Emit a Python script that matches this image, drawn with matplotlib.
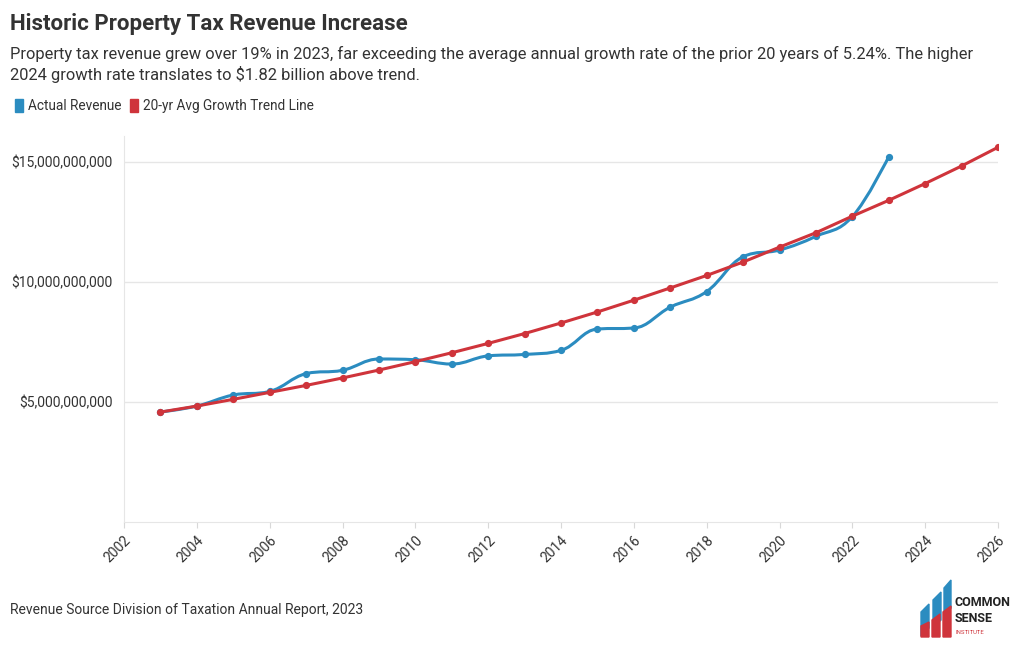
import matplotlib
matplotlib.use('Agg')
import matplotlib.pyplot as plt
from matplotlib.path import Path
from matplotlib.patches import PathPatch, Patch, Polygon
from matplotlib.ticker import FuncFormatter
import numpy as np

plt.rcParams['font.family'] = ['Roboto', 'DejaVu Sans']

# data (billions of dollars)
years = [2003, 2004, 2005, 2006, 2007, 2008, 2009, 2010, 2011, 2012, 2013, 2014,
         2015, 2016, 2017, 2018, 2019, 2020, 2021, 2022, 2023]
actual = [4.58, 4.83, 5.29, 5.44, 6.18, 6.32, 6.79, 6.76, 6.58, 6.92, 6.98, 7.15,
          8.04, 8.08, 8.95, 9.60, 11.05, 11.33, 11.90, 12.72, 15.22]
trend_years = list(range(2003, 2027))
trend = [4.58, 4.83, 5.11, 5.40, 5.69, 6.00, 6.33, 6.68, 7.05, 7.44, 7.85, 8.29,
         8.75, 9.24, 9.75, 10.27, 10.83, 11.45, 12.05, 12.74, 13.40, 14.10, 14.83, 15.61]
xticks = list(range(2002, 2027, 2))
yticks = [5e9, 10e9, 15e9]

BLUE = '#2b8cc0'
RED = '#cf343b'
GRID = '#e6e6e6'
TXT = '#333333'


def spline_path(xs, ys, smoothing=1.5):
    # highcharts-style spline: cubic bezier through each point
    n = len(xs)
    lc = [(xs[i], ys[i]) for i in range(n)]
    rc = [(xs[i], ys[i]) for i in range(n)]
    d = smoothing + 1
    for i in range(1, n - 1):
        px, py = xs[i], ys[i]
        lx, ly = xs[i - 1], ys[i - 1]
        nx, ny = xs[i + 1], ys[i + 1]
        lcx = (smoothing * px + lx) / d
        lcy = (smoothing * py + ly) / d
        rcx = (smoothing * px + nx) / d
        rcy = (smoothing * py + ny) / d
        if rcx != lcx:
            corr = (rcy - lcy) * (rcx - px) / (rcx - lcx) + py - rcy
            lcy += corr
            rcy += corr
            if lcy > ly and lcy > py:
                lcy = max(ly, py); rcy = 2 * py - lcy
            elif lcy < ly and lcy < py:
                lcy = min(ly, py); rcy = 2 * py - lcy
            if rcy > ny and rcy > py:
                rcy = max(ny, py); lcy = 2 * py - rcy
            elif rcy < ny and rcy < py:
                rcy = min(ny, py); lcy = 2 * py - rcy
        lc[i] = (lcx, lcy)
        rc[i] = (rcx, rcy)
    verts = [(xs[0], ys[0])]
    codes = [Path.MOVETO]
    for i in range(1, n):
        verts += [rc[i - 1], lc[i], (xs[i], ys[i])]
        codes += [Path.CURVE4] * 3
    return Path(verts, codes)


fig = plt.figure(figsize=(10.2, 6.5), dpi=100)
ax = fig.add_axes([124 / 1020, 128 / 650, 874 / 1020, 386 / 650])

act = np.array(actual) * 1e9
trd = np.array(trend) * 1e9

ax.add_patch(PathPatch(spline_path(years, act), fill=False, edgecolor=BLUE,
                       lw=2.2, capstyle='round', joinstyle='round', zorder=3))
ax.plot(years, act, 'o', color=BLUE, ms=4.2, zorder=4)
ax.plot(trend_years, trd, '-o', color=RED, lw=2.2, ms=4.2, zorder=5)

ax.set_xlim(2002, 2026)
ax.set_ylim(0, 16.08e9)
ax.set_xticks(xticks)
ax.set_xticklabels([str(y) for y in xticks], rotation=45, ha='right', va='top',
                   rotation_mode='anchor', fontsize=10, color=TXT)
ax.set_yticks(yticks)
ax.yaxis.set_major_formatter(FuncFormatter(lambda v, p: '${:,.0f}'.format(v)))
ax.tick_params(axis='y', length=0, labelsize=10, labelcolor=TXT, pad=8)
ax.tick_params(axis='x', length=4, color='#d8d8d8', pad=4)
ax.grid(axis='y', color=GRID, lw=1)
ax.set_axisbelow(True)
for s in ['top', 'right']:
    ax.spines[s].set_visible(False)
ax.spines['left'].set_color(GRID)
ax.spines['bottom'].set_color(GRID)

# title block
fig.text(10 / 1020, 1 - 24 / 650, 'Historic Property Tax Revenue Increase',
         fontsize=16, fontweight='bold', color=TXT, va='center')
fig.text(10 / 1020, 1 - 64.5 / 650,
         'Property tax revenue grew over 19% in 2023, far exceeding the average annual growth rate of the prior 20 years of 5.24%. The higher\n'
         '2024 growth rate translates to $1.82 billion above trend.',
         fontsize=11.85, color=TXT, va='center', linespacing=1.3)

handles = [Patch(color=BLUE), Patch(color=RED)]
fig.legend(handles, ['Actual Revenue', '20-yr Avg Growth Trend Line'],
           loc='center left', bbox_to_anchor=(3 / 1020, 1 - 106 / 650), ncol=2,
           frameon=False, fontsize=9.8, handlelength=0.6, handleheight=1.1,
           handletextpad=0.35, columnspacing=0.6, labelcolor=TXT)

fig.text(10 / 1020, 1 - 610 / 650,
         'Revenue Source Division of Taxation Annual Report, 2023',
         fontsize=10, color=TXT, va='center')

# logo (common sense institute)
def px(x, y):
    return (x / 1020, 1 - y / 650)

blue_bars = [[(921, 612), (929, 604), (929, 628), (921, 636)],
             [(933, 600), (941, 592), (941, 620), (933, 628)],
             [(944, 588), (951, 580), (951, 608), (944, 616)]]
red_bars = [[(921, 626), (929, 622), (929, 637), (921, 637)],
            [(932, 620), (940, 614), (940, 637), (932, 637)],
            [(943, 612), (951, 606), (951, 637), (943, 637)]]
for b in blue_bars:
    fig.patches.append(Polygon([px(*p) for p in b], closed=True, color=BLUE,
                               transform=fig.transFigure, figure=fig))
for b in red_bars:
    fig.patches.append(Polygon([px(*p) for p in b], closed=True, color=RED,
                               transform=fig.transFigure, figure=fig))
fig.text(*px(955, 602), 'COMMON', fontsize=9, fontweight='bold', color='#222222',
         va='center')
fig.text(*px(955, 618), 'SENSE', fontsize=9, fontweight='bold', color='#222222',
         va='center')
fig.text(*px(956, 632), 'INSTITUTE', fontsize=4.3, color=RED, va='center')

fig.savefig('out.png', dpi=100, facecolor='white')
